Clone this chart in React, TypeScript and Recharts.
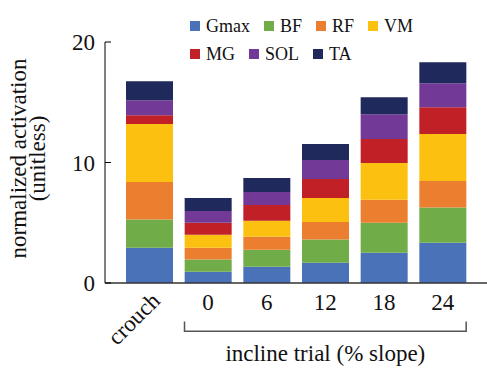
import React from 'react';
import { BarChart, Bar, XAxis, YAxis, ReferenceArea } from 'recharts';

const categories = ['crouch', '0', '6', '12', '18', '24'];
const gmax = [2.92, 0.94, 1.35, 1.68, 2.51, 3.34];
const bf = [2.35, 1.02, 1.41, 1.93, 2.48, 2.92];
const rf = [3.12, 0.96, 1.07, 1.46, 1.91, 2.21];
const vm = [4.8, 1.08, 1.33, 1.99, 3.06, 3.89];
const mg = [0.74, 0.99, 1.32, 1.57, 1.99, 2.23];
const sol = [1.24, 0.99, 1.08, 1.58, 2.06, 1.99];
const ta = [1.58, 1.08, 1.16, 1.32, 1.41, 1.74];
const yTicks = [0, 10, 20];

const seriesNames = ['Gmax', 'BF', 'RF', 'VM', 'MG', 'SOL', 'TA'];
const seriesValues = [gmax, bf, rf, vm, mg, sol, ta];
const colors = ['#4a72b8', '#70ac48', '#ec7e2f', '#fcc010', '#c02026', '#723a96', '#1f295c'];
const legendRows = [['Gmax', 'BF', 'RF', 'VM'], ['MG', 'SOL', 'TA']];

const data = categories.map((c, i) => {
  const row: Record<string, string | number> = { cat: c };
  seriesNames.forEach((n, k) => {
    row[n] = seriesValues[k][i];
  });
  return row;
});

const FONT = 'Liberation Serif, DejaVu Serif, serif';
const BAR_SIZE = 47;

const YTick = (props: any) => {
  const { x, y, payload } = props;
  return (
    <g>
      <line x1={x + 10} y1={y} x2={x + 16} y2={y} stroke="#000" strokeWidth={1} />
      <text x={x} y={y} dy="0.35em" textAnchor="end" style={{ fontFamily: FONT }} fontSize={23} fill="#111">
        {payload.value}
      </text>
    </g>
  );
};

const XTick = (props: any) => {
  const { x, y, payload } = props;
  if (payload.value === 'crouch') {
    const ax = x + 12;
    const ay = y + 7;
    return (
      <text x={ax} y={ay} textAnchor="end" transform={`rotate(-45, ${ax}, ${ay})`} style={{ fontFamily: FONT }} fontSize={23} fill="#111">
        {payload.value}
      </text>
    );
  }
  return (
    <text x={x} y={y + 15} textAnchor="middle" style={{ fontFamily: FONT }} fontSize={23} fill="#111">
      {payload.value}
    </text>
  );
};

const YLabel = (props: any) => {
  const { viewBox } = props;
  const cy = viewBox.y + viewBox.height / 2 - 4;
  const x1 = viewBox.x + 26;
  const x2 = viewBox.x + 45;
  return (
    <g style={{ fontFamily: FONT }} fontSize={23} fill="#111">
      <text x={x1} y={cy} textAnchor="middle" transform={`rotate(-90, ${x1}, ${cy})`}>normalized activation</text>
      <text x={x2} y={cy} textAnchor="middle" transform={`rotate(-90, ${x2}, ${cy})`}>(unitless)</text>
    </g>
  );
};

const Bracket = (props: any) => {
  const { x, y, width, height } = props;
  const band = width / 5;
  const inset = (band - BAR_SIZE) / 2;
  const l = x + inset;
  const r = x + width - inset;
  const b = y + height;
  return (
    <g>
      <path d={`M${l},${y} L${l},${b} L${r},${b} L${r},${y}`} fill="none" stroke="#555" strokeWidth={1.5} />
      <text x={(l + r) / 2} y={b + 30} textAnchor="middle" style={{ fontFamily: FONT }} fontSize={23} fill="#111">
        incline trial (% slope)
      </text>
    </g>
  );
};

const LegendBox = () => (
  <div style={{ position: 'absolute', left: 190, top: 12, fontFamily: FONT, fontSize: 18, color: '#111', lineHeight: '28px' }}>
    {legendRows.map((row, ri) => (
      <div key={ri} style={{ display: 'flex', alignItems: 'center', height: 28 }}>
        {row.map((name) => (
          <div key={name} style={{ display: 'flex', alignItems: 'center', marginRight: 14 }}>
            <span style={{ display: 'inline-block', width: 10, height: 10, background: colors[seriesNames.indexOf(name)], marginRight: 6 }} />
            <span>{name}</span>
          </div>
        ))}
      </div>
    ))}
  </div>
);

export default function App() {
  return (
    <div style={{ position: 'absolute', left: 0, top: 0, width: 487, height: 370, background: '#fff' }}>
      <BarChart width={487} height={370} data={data} margin={{ top: 42, right: 0, bottom: 0, left: 0 }} barSize={BAR_SIZE}>
        <XAxis
          dataKey="cat"
          height={87}
          padding={{ left: 15, right: 15 }}
          tickLine={false}
          tickSize={0}
          tickMargin={12}
          interval={0}
          axisLine={{ stroke: '#333', strokeWidth: 1.6 }}
          tick={<XTick />}
        />
        <YAxis
          domain={[0, 20]}
          ticks={yTicks}
          width={105}
          tickLine={false}
          tickSize={0}
          tickMargin={10}
          axisLine={{ stroke: '#000', strokeWidth: 1 }}
          tick={<YTick />}
          label={{ content: <YLabel /> }}
        />
        {seriesNames.map((n, k) => (
          <Bar key={n} dataKey={n} stackId="a" fill={colors[k]} isAnimationActive={false} />
        ))}
        <ReferenceArea x1="0" x2="24" y1={-4.0} y2={-3.2} ifOverflow="visible" fill="none" stroke="none" shape={<Bracket />} />
      </BarChart>
      <LegendBox />
    </div>
  );
}
